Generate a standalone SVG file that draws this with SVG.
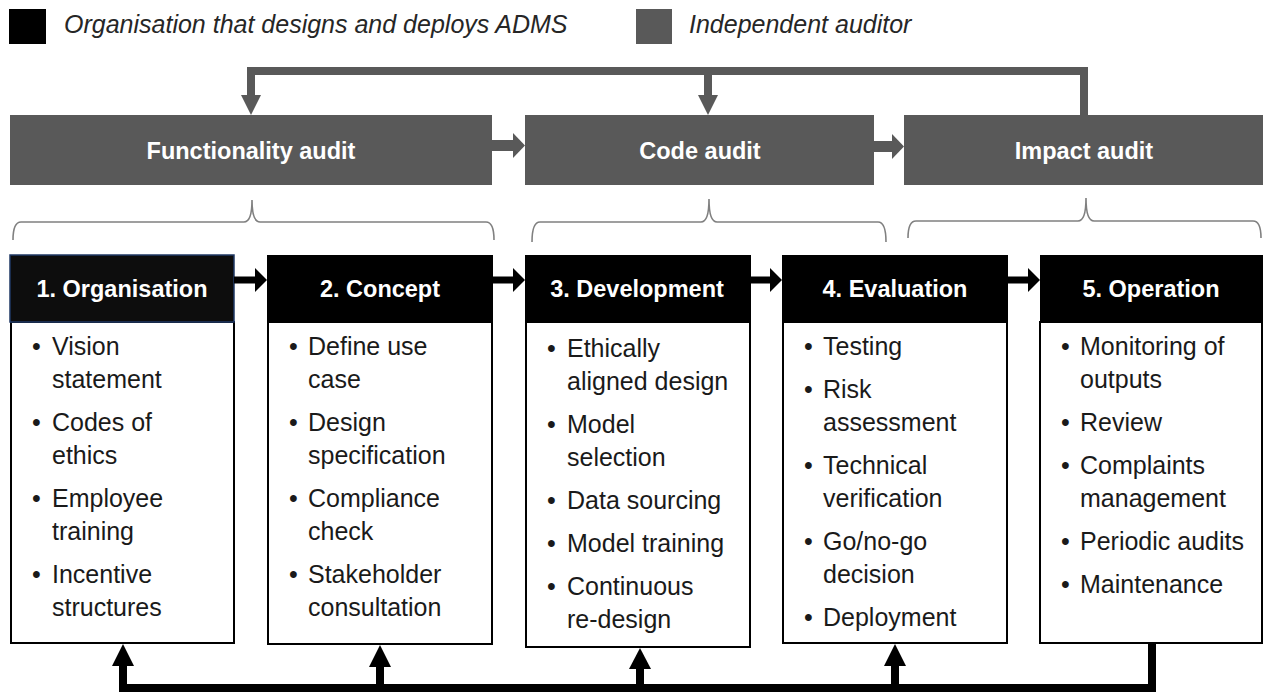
<svg xmlns="http://www.w3.org/2000/svg" width="1263" height="694" viewBox="0 0 1263 694">
<style>
.legend{font-family:"Liberation Sans",Arial,sans-serif;font-style:italic;font-size:25px;fill:#262626}
.audit rect{fill:#595959}
.audit text{font-family:"Liberation Sans",Arial,sans-serif;font-weight:bold;font-size:23.5px;fill:#fff;text-anchor:middle}
.hdr{fill:#000}
.body{fill:#fff;stroke:#000;stroke-width:2}
.htxt{font-family:"Liberation Sans",Arial,sans-serif;font-weight:bold;font-size:23.5px;fill:#fff;text-anchor:middle}
.btxt{font-family:"Liberation Sans",Arial,sans-serif;font-size:25px;fill:#1a1a1a}
.brace{fill:none;stroke:#808080;stroke-width:1.6}
.grey{fill:#595959}
.gline{fill:none;stroke:#595959;stroke-width:8}
.bline{fill:none;stroke:#000;stroke-width:8}
</style>
<rect width="1263" height="694" fill="#fff"/>
<g id="legend">
<rect x="9" y="9" width="37" height="35" fill="#000"/>
<text class="legend" x="64" y="33">Organisation that designs and deploys ADMS</text>
<rect x="636" y="9" width="36" height="35" fill="#595959"/>
<text class="legend" x="689" y="33">Independent auditor</text>
</g>
<g id="audit-functionality" class="audit">
<rect x="10" y="115" width="482" height="70"/>
<text x="251" y="159">Functionality audit</text>
</g>
<g id="audit-code" class="audit">
<rect x="525" y="115" width="349" height="70"/>
<text x="700" y="159">Code audit</text>
</g>
<g id="audit-impact" class="audit">
<rect x="904" y="115" width="359" height="70"/>
<text x="1084" y="159">Impact audit</text>
</g>
<g id="braces">
<path class="brace" d="M13,240 Q13,222 21,222 L244,222 Q252,222 252,200 Q252,222 260,222 L486,222 Q494,222 494,240"/>
<path class="brace" d="M532,242 Q532,222 540,222 L701,222 Q709,222 709,199 Q709,222 717,222 L878,222 Q886,222 886,242"/>
<path class="brace" d="M908,238 Q908,221 916,221 L1078,221 Q1086,221 1086,198 Q1086,221 1094,221 L1253,221 Q1261,221 1261,238"/>
</g>
<g id="stage-1">
<rect class="body" x="11" y="322" width="223" height="321"/>
<rect x="10" y="255" width="224" height="67" fill="#0d0d0d" stroke="#1f3864" stroke-width="1.5"/>
<text class="htxt" x="122" y="297">1. Organisation</text>
<text class="btxt"><tspan x="32" y="355">•</tspan><tspan x="52" y="355">Vision</tspan><tspan x="52" y="388">statement</tspan><tspan x="32" y="431">•</tspan><tspan x="52" y="431">Codes of</tspan><tspan x="52" y="464">ethics</tspan><tspan x="32" y="507">•</tspan><tspan x="52" y="507">Employee</tspan><tspan x="52" y="540">training</tspan><tspan x="32" y="583">•</tspan><tspan x="52" y="583">Incentive</tspan><tspan x="52" y="616">structures</tspan></text>
</g>
<g id="stage-2">
<rect class="body" x="268" y="322" width="224" height="322"/>
<rect class="hdr" x="267" y="255" width="226" height="67"/>
<text class="htxt" x="380" y="297">2. Concept</text>
<text class="btxt"><tspan x="289" y="355">•</tspan><tspan x="308" y="355">Define use</tspan><tspan x="308" y="388">case</tspan><tspan x="289" y="431">•</tspan><tspan x="308" y="431">Design</tspan><tspan x="308" y="464">specification</tspan><tspan x="289" y="507">•</tspan><tspan x="308" y="507">Compliance</tspan><tspan x="308" y="540">check</tspan><tspan x="289" y="583">•</tspan><tspan x="308" y="583">Stakeholder</tspan><tspan x="308" y="616">consultation</tspan></text>
</g>
<g id="stage-3">
<rect class="body" x="526" y="322" width="224" height="325"/>
<rect class="hdr" x="525" y="255" width="226" height="67"/>
<text class="htxt" x="637" y="297">3. Development</text>
<text class="btxt"><tspan x="547" y="357">•</tspan><tspan x="567" y="357">Ethically</tspan><tspan x="567" y="390">aligned design</tspan><tspan x="547" y="433">•</tspan><tspan x="567" y="433">Model</tspan><tspan x="567" y="466">selection</tspan><tspan x="547" y="509">•</tspan><tspan x="567" y="509">Data sourcing</tspan><tspan x="547" y="552">•</tspan><tspan x="567" y="552">Model training</tspan><tspan x="547" y="595">•</tspan><tspan x="567" y="595">Continuous</tspan><tspan x="567" y="628">re-design</tspan></text>
</g>
<g id="stage-4">
<rect class="body" x="783" y="322" width="224" height="321"/>
<rect class="hdr" x="782" y="255" width="226" height="67"/>
<text class="htxt" x="895" y="297">4. Evaluation</text>
<text class="btxt"><tspan x="804" y="355">•</tspan><tspan x="823" y="355">Testing</tspan><tspan x="804" y="398">•</tspan><tspan x="823" y="398">Risk</tspan><tspan x="823" y="431">assessment</tspan><tspan x="804" y="474">•</tspan><tspan x="823" y="474">Technical</tspan><tspan x="823" y="507">verification</tspan><tspan x="804" y="550">•</tspan><tspan x="823" y="550">Go/no-go</tspan><tspan x="823" y="583">decision</tspan><tspan x="804" y="626">•</tspan><tspan x="823" y="626">Deployment</tspan></text>
</g>
<g id="stage-5">
<rect class="body" x="1040" y="322" width="222" height="321"/>
<rect class="hdr" x="1040" y="255" width="223" height="67"/>
<text class="htxt" x="1151" y="297">5. Operation</text>
<text class="btxt"><tspan x="1061" y="355">•</tspan><tspan x="1080" y="355">Monitoring of</tspan><tspan x="1080" y="388">outputs</tspan><tspan x="1061" y="431">•</tspan><tspan x="1080" y="431">Review</tspan><tspan x="1061" y="474">•</tspan><tspan x="1080" y="474">Complaints</tspan><tspan x="1080" y="507">management</tspan><tspan x="1061" y="550">•</tspan><tspan x="1080" y="550">Periodic audits</tspan><tspan x="1061" y="593">•</tspan><tspan x="1080" y="593">Maintenance</tspan></text>
</g>
<g id="connectors">
<path class="gline" d="M1084,115 L1084,71 L251,71 L251,97"/>
<path class="gline" d="M708,71 L708,97"/>
<polygon class="grey" points="241,95 261,95 251,115"/>
<polygon class="grey" points="698,95 718,95 708,115"/>
<rect class="grey" x="492" y="140" width="22" height="11"/>
<polygon class="grey" points="513,133 525,145.5 513,158"/>
<rect class="grey" x="874" y="141" width="19" height="11"/>
<polygon class="grey" points="892,134 904,146.5 892,159"/>
<rect x="234" y="276.5" width="22" height="7" fill="#000"/>
<polygon points="255,268 267,280 255,292" fill="#000"/>
<rect x="493" y="276.5" width="21" height="7" fill="#000"/>
<polygon points="513,268 525,280 513,292" fill="#000"/>
<rect x="751" y="276.5" width="20" height="7" fill="#000"/>
<polygon points="770,268 782,280 770,292" fill="#000"/>
<rect x="1008" y="276.5" width="21" height="7" fill="#000"/>
<polygon points="1028,268 1040,280 1028,292" fill="#000"/>
<path class="bline" d="M1152,644 L1152,688 L123,688 L123,664"/>
<path class="bline" d="M380,688 L380,664"/>
<path class="bline" d="M640,688 L640,666"/>
<path class="bline" d="M895,688 L895,664"/>
<polygon points="112,666 134,666 123,644"/>
<polygon points="369,667 391,667 380,645"/>
<polygon points="629,669 651,669 640,648"/>
<polygon points="884,666 906,666 895,644"/>
</g>
</svg>
